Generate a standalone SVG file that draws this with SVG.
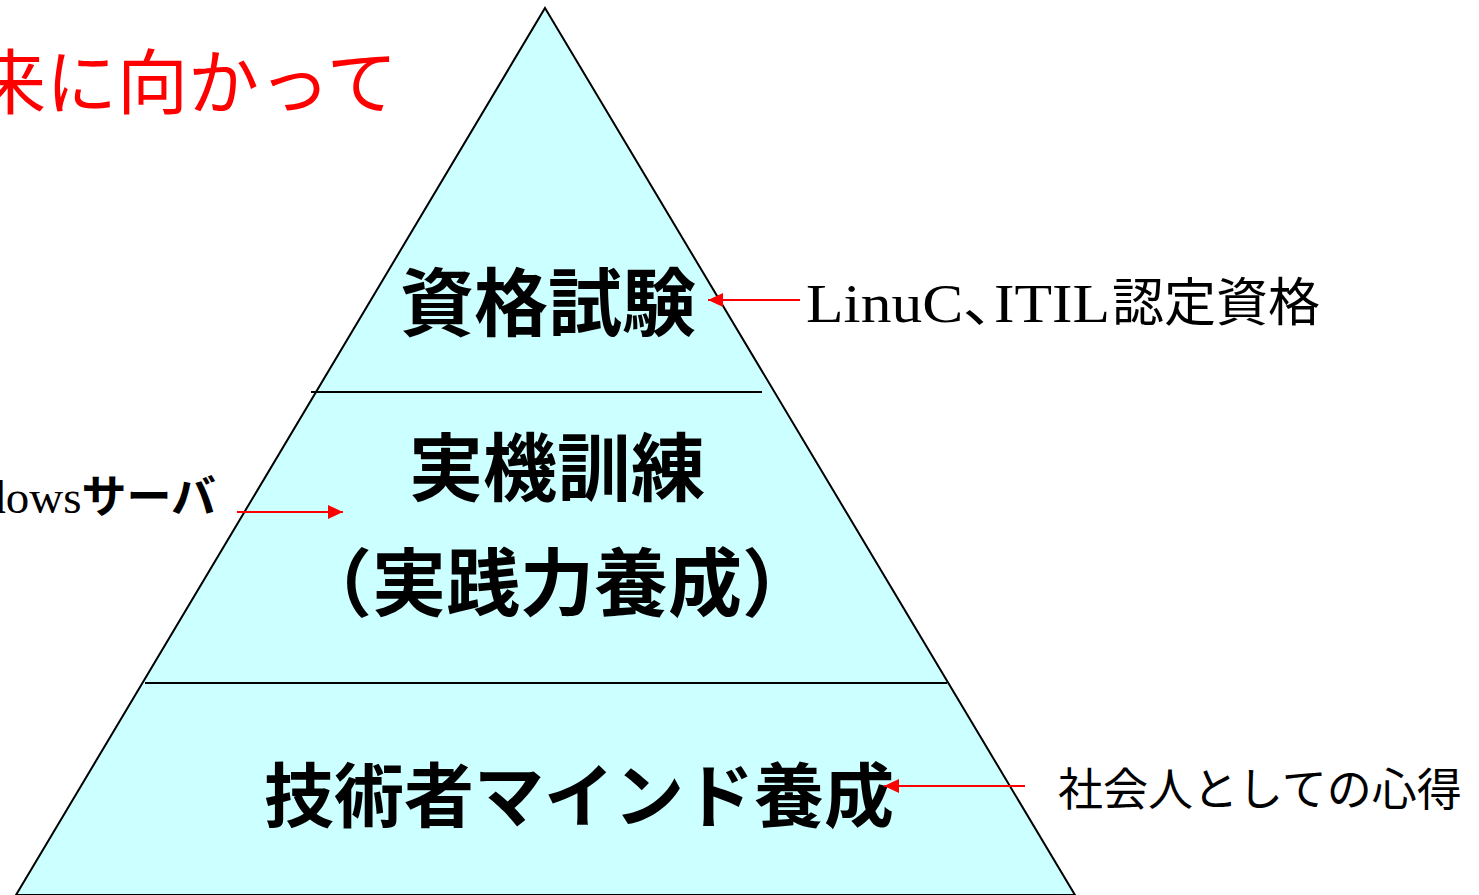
<svg xmlns="http://www.w3.org/2000/svg" width="1479" height="895" viewBox="0 0 1479 895">
  <style>
    .tier { font-family: "Noto Sans CJK JP", sans-serif; font-weight: bold; fill: #000; text-anchor: middle; }
    .note { font-family: "Noto Sans CJK JP", sans-serif; fill: #000; }
    .serif { font-family: "Liberation Serif", "Noto Sans CJK JP", serif; fill: #000; }
    .palt { font-feature-settings: "palt"; }
    .divider { stroke: #000; stroke-width: 2; }
    .conn { stroke: #FF0000; stroke-width: 2; fill: none; }
  </style>
  <defs>
    <marker id="arrow" markerUnits="userSpaceOnUse" markerWidth="16" markerHeight="14" refX="15" refY="7" orient="auto">
      <path d="M0,0 L15,7 L0,14 Z" fill="#FF0000"/>
    </marker>
  </defs>
  <rect width="1479" height="895" fill="#FFFFFF"/>

  <g id="pyramid">
    <polygon points="545,8 1075,895 16,895" fill="#CCFFFF" stroke="#000" stroke-width="2"/>
    <line class="divider" x1="311" y1="392" x2="762" y2="392"/>
    <line class="divider" x1="145" y1="683" x2="947" y2="683"/>
  </g>

  <g id="title">
    <text x="-25" y="108" font-family="Noto Sans CJK JP, sans-serif" font-size="71" fill="#FF0000">来に向かって</text>
  </g>

  <g id="tier-top">
    <text class="tier" x="548" y="330" font-size="74">資格試験</text>
  </g>

  <g id="tier-middle">
    <text class="tier" x="557" y="495" font-size="74">実機訓練</text>
    <text class="tier" x="557" y="610" font-size="74">（実践力養成）</text>
  </g>

  <g id="tier-bottom">
    <text class="tier" x="579" y="822" font-size="70">技術者マインド養成</text>
  </g>

  <g id="label-cert">
    <text class="serif palt" x="806" y="322" font-size="54" textLength="304" lengthAdjust="spacingAndGlyphs">LinuC、ITIL</text>
    <text class="note" x="1112" y="321" font-size="52">認定資格</text>
  </g>

  <g id="label-windows">
    <text x="216" y="513" text-anchor="end"><tspan class="serif" font-size="47">Windows</tspan><tspan class="note" font-size="45" font-weight="bold">サーバ</tspan></text>
  </g>

  <g id="label-mind">
    <text class="note" x="1058" y="806" font-size="45">社会人としての心得</text>
  </g>

  <g id="connectors">
    <line class="conn" x1="800" y1="300" x2="708" y2="300" marker-end="url(#arrow)"/>
    <line class="conn" x1="237" y1="512" x2="343" y2="512" marker-end="url(#arrow)"/>
    <line class="conn" x1="1025" y1="786" x2="884" y2="786" marker-end="url(#arrow)"/>
  </g>
</svg>
